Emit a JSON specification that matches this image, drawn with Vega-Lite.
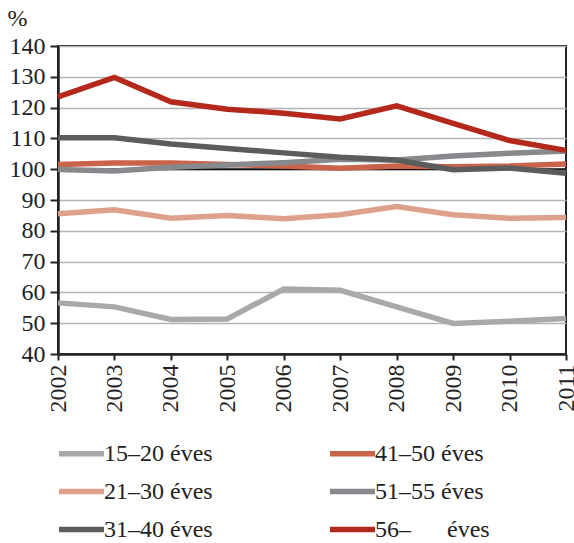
{
  "$schema": "https://vega.github.io/schema/vega-lite/v6.json",
  "width": 508,
  "height": 308,
  "autosize": {"type": "none"},
  "padding": {"left": 58, "top": 46, "right": 8, "bottom": 189},
  "background": "white",
  "config": {
    "font": "Liberation Serif",
    "view": {"stroke": "#222222", "strokeWidth": 2}
  },
  "datasets": {
    "series": [
      {"year": 2002, "group": "15–20 éves", "value": 56.6},
      {"year": 2003, "group": "15–20 éves", "value": 55.3},
      {"year": 2004, "group": "15–20 éves", "value": 51.2},
      {"year": 2005, "group": "15–20 éves", "value": 51.4},
      {"year": 2006, "group": "15–20 éves", "value": 61.1},
      {"year": 2007, "group": "15–20 éves", "value": 60.7},
      {"year": 2008, "group": "15–20 éves", "value": 55.3},
      {"year": 2009, "group": "15–20 éves", "value": 49.9},
      {"year": 2010, "group": "15–20 éves", "value": 50.6},
      {"year": 2011, "group": "15–20 éves", "value": 51.5},
      {"year": 2002, "group": "21–30 éves", "value": 85.5},
      {"year": 2003, "group": "21–30 éves", "value": 86.8},
      {"year": 2004, "group": "21–30 éves", "value": 84.1},
      {"year": 2005, "group": "21–30 éves", "value": 85.0},
      {"year": 2006, "group": "21–30 éves", "value": 83.9},
      {"year": 2007, "group": "21–30 éves", "value": 85.2},
      {"year": 2008, "group": "21–30 éves", "value": 87.9},
      {"year": 2009, "group": "21–30 éves", "value": 85.2},
      {"year": 2010, "group": "21–30 éves", "value": 84.1},
      {"year": 2011, "group": "21–30 éves", "value": 84.3},
      {"year": 2002, "group": "41–50 éves", "value": 101.5},
      {"year": 2003, "group": "41–50 éves", "value": 102.0},
      {"year": 2004, "group": "41–50 éves", "value": 102.0},
      {"year": 2005, "group": "41–50 éves", "value": 101.5},
      {"year": 2006, "group": "41–50 éves", "value": 101.0},
      {"year": 2007, "group": "41–50 éves", "value": 100.3},
      {"year": 2008, "group": "41–50 éves", "value": 101.0},
      {"year": 2009, "group": "41–50 éves", "value": 100.8},
      {"year": 2010, "group": "41–50 éves", "value": 101.0},
      {"year": 2011, "group": "41–50 éves", "value": 101.7},
      {"year": 2002, "group": "51–55 éves", "value": 99.9},
      {"year": 2003, "group": "51–55 éves", "value": 99.4},
      {"year": 2004, "group": "51–55 éves", "value": 100.6},
      {"year": 2005, "group": "51–55 éves", "value": 101.4},
      {"year": 2006, "group": "51–55 éves", "value": 102.1},
      {"year": 2007, "group": "51–55 éves", "value": 103.2},
      {"year": 2008, "group": "51–55 éves", "value": 103.0},
      {"year": 2009, "group": "51–55 éves", "value": 104.3},
      {"year": 2010, "group": "51–55 éves", "value": 105.2},
      {"year": 2011, "group": "51–55 éves", "value": 105.9},
      {"year": 2002, "group": "31–40 éves", "value": 110.2},
      {"year": 2003, "group": "31–40 éves", "value": 110.2},
      {"year": 2004, "group": "31–40 éves", "value": 108.2},
      {"year": 2005, "group": "31–40 éves", "value": 106.7},
      {"year": 2006, "group": "31–40 éves", "value": 105.3},
      {"year": 2007, "group": "31–40 éves", "value": 103.9},
      {"year": 2008, "group": "31–40 éves", "value": 103.0},
      {"year": 2009, "group": "31–40 éves", "value": 99.8},
      {"year": 2010, "group": "31–40 éves", "value": 100.4},
      {"year": 2011, "group": "31–40 éves", "value": 98.7},
      {"year": 2002, "group": "56–\u00a0\u00a0\u00a0\u00a0\u00a0\u00a0éves", "value": 123.5},
      {"year": 2003, "group": "56–\u00a0\u00a0\u00a0\u00a0\u00a0\u00a0éves", "value": 129.8},
      {"year": 2004, "group": "56–\u00a0\u00a0\u00a0\u00a0\u00a0\u00a0éves", "value": 121.9},
      {"year": 2005, "group": "56–\u00a0\u00a0\u00a0\u00a0\u00a0\u00a0éves", "value": 119.5},
      {"year": 2006, "group": "56–\u00a0\u00a0\u00a0\u00a0\u00a0\u00a0éves", "value": 118.2},
      {"year": 2007, "group": "56–\u00a0\u00a0\u00a0\u00a0\u00a0\u00a0éves", "value": 116.3},
      {"year": 2008, "group": "56–\u00a0\u00a0\u00a0\u00a0\u00a0\u00a0éves", "value": 120.6},
      {"year": 2009, "group": "56–\u00a0\u00a0\u00a0\u00a0\u00a0\u00a0éves", "value": 114.9},
      {"year": 2010, "group": "56–\u00a0\u00a0\u00a0\u00a0\u00a0\u00a0éves", "value": 109.3},
      {"year": 2011, "group": "56–\u00a0\u00a0\u00a0\u00a0\u00a0\u00a0éves", "value": 106.1}
    ],
    "ref": [{"value": 100}]
  },
  "encoding": {
    "y": {
      "field": "value",
      "type": "quantitative",
      "scale": {"domain": [40, 140], "nice": false, "zero": false},
      "axis": {
        "title": "%",
        "titleAngle": 0,
        "titleAlign": "left",
        "titleBaseline": "middle",
        "titleX": -51,
        "titleY": -28,
        "titleFontSize": 24,
        "titleFontWeight": "normal",
        "titleColor": "#222222",
        "values": [40, 50, 60, 70, 80, 90, 100, 110, 120, 130, 140],
        "labelOverlap": false,
        "labelFontSize": 24,
        "labelColor": "#222222",
        "labelPadding": 5,
        "tickSize": 8,
        "tickColor": "#222222",
        "tickWidth": 2,
        "domainColor": "#222222",
        "domainWidth": 2.5,
        "grid": true,
        "gridColor": "#b3b3b3",
        "gridWidth": 1.5
      }
    }
  },
  "layer": [
    {
      "data": {"name": "ref"},
      "mark": {"type": "rule", "color": "#111111", "strokeWidth": 2}
    },
    {
      "data": {"name": "series"},
      "mark": {"type": "line", "strokeWidth": 5.5, "strokeCap": "butt", "strokeJoin": "miter"},
      "encoding": {
        "x": {
          "field": "year",
          "type": "quantitative",
          "scale": {"domain": [2002, 2011], "nice": false, "zero": false},
          "axis": {
            "title": null,
            "values": [2002, 2003, 2004, 2005, 2006, 2007, 2008, 2009, 2010, 2011],
            "format": "d",
            "grid": false,
            "labelAngle": 270,
            "labelFontSize": 24,
            "labelColor": "#222222",
            "labelPadding": 4,
            "tickSize": 6,
            "tickColor": "#222222",
            "tickWidth": 2,
            "domainColor": "#222222",
            "domainWidth": 2.5,
            "labelFlush": false,
            "labelOverlap": false
          }
        },
        "color": {
          "field": "group",
          "type": "nominal",
          "scale": {
            "domain": ["15–20 éves", "41–50 éves", "21–30 éves", "51–55 éves", "31–40 éves", "56–\u00a0\u00a0\u00a0\u00a0\u00a0\u00a0éves"],
            "range": ["#a8a9ab", "#c9644b", "#dea18b", "#88898c", "#5b5c5e", "#b5291d"]
          },
          "legend": {
            "title": null,
            "orient": "none",
            "legendX": -2,
            "legendY": 382,
            "columns": 2,
            "direction": "horizontal",
            "columnPadding": 106,
            "rowPadding": -5,
            "symbolType": "stroke",
            "symbolSize": 2025,
            "symbolStrokeWidth": 5.5,
            "labelFontSize": 24,
            "labelColor": "#222222",
            "labelOffset": -3,
            "labelLimit": 300,
            "padding": 0
          }
        }
      }
    }
  ]
}
